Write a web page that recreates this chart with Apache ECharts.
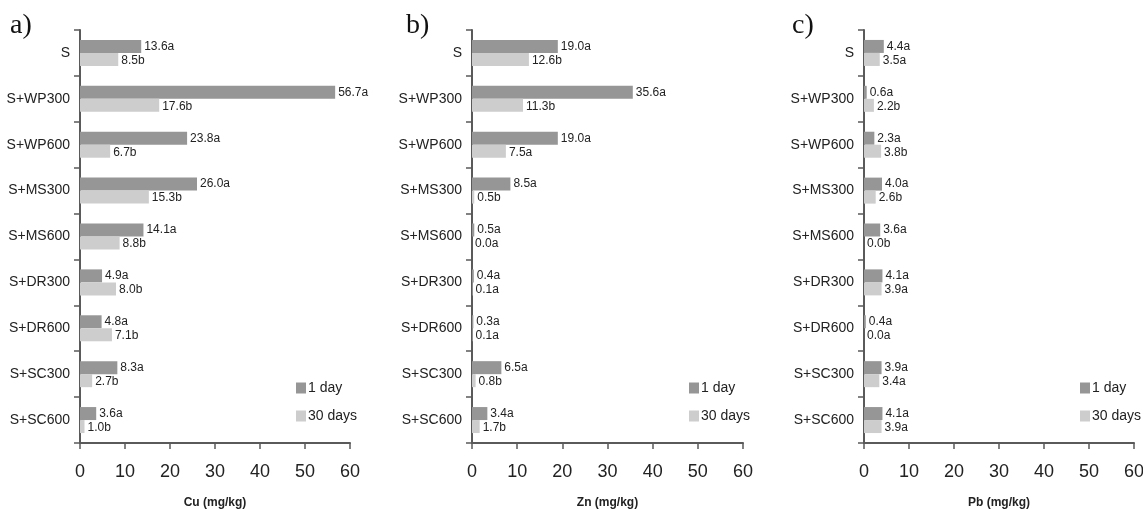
<!DOCTYPE html>
<html>
<head>
<meta charset="utf-8">
<script src="https://cdn.jsdelivr.net/npm/echarts@6/dist/echarts.min.js"></script>
<style>
html,body{margin:0;padding:0;background:#fff;}
#c{width:1143px;height:509px;}
</style>
</head>
<body>
<div id="c"></div>
<script>
var categories = ['S','S+WP300','S+WP600','S+MS300','S+MS600','S+DR300','S+DR600','S+SC300','S+SC600'];
var seriesNames = ['1 day','30 days'];
var xTicks = [0,10,20,30,40,50,60];
var panelLetters = ['a)','b)','c)'];
var axisTitles = ['Cu (mg/kg)','Zn (mg/kg)','Pb (mg/kg)'];

var cu1 = [13.6,56.7,23.8,26.0,14.1,4.9,4.8,8.3,3.6];
var cu30 = [8.5,17.6,6.7,15.3,8.8,8.0,7.1,2.7,1.0];
var cu1L = ['a','a','a','a','a','a','a','a','a'];
var cu30L = ['b','b','b','b','b','b','b','b','b'];

var zn1 = [19.0,35.6,19.0,8.5,0.5,0.4,0.3,6.5,3.4];
var zn30 = [12.6,11.3,7.5,0.5,0.0,0.1,0.1,0.8,1.7];
var zn1L = ['a','a','a','a','a','a','a','a','a'];
var zn30L = ['b','b','a','b','a','a','a','b','b'];

var pb1 = [4.4,0.6,2.3,4.0,3.6,4.1,0.4,3.9,4.1];
var pb30 = [3.5,2.2,3.8,2.6,0.0,3.9,0.0,3.4,3.9];
var pb1L = ['a','a','a','a','a','a','a','a','a'];
var pb30L = ['a','b','b','b','b','a','a','a','a'];

var panels = [
  {d1: cu1, d30: cu30, l1: cu1L, l30: cu30L},
  {d1: zn1, d30: zn30, l1: zn1L, l30: zn30L},
  {d1: pb1, d30: pb30, l1: pb1L, l30: pb30L}
];

var FONT = "'Liberation Sans', Arial, sans-serif";
var gridLeft = [80, 472, 864];
var gridWidth = [270, 271, 270];
var legendLeft = [296, 689, 1080];
var letterLeft = [10, 406, 792];
var DARK = '#969696', LIGHT = '#cdcdcd', AXIS = '#5a5a5a';

var grids = [], xAxes = [], yAxes = [], series = [], legends = [], titles = [];
panels.forEach(function(p, i){
  grids.push({left: gridLeft[i], width: gridWidth[i], top: 30, height: 413, containLabel: false, outerBoundsMode: 'none'});
  xAxes.push({
    type: 'value', gridIndex: i, min: xTicks[0], max: xTicks[xTicks.length-1], interval: 10,
    splitLine: {show: false},
    axisLine: {show: true, lineStyle: {color: AXIS, width: 2}},
    axisTick: {show: true, length: 6, lineStyle: {color: AXIS, width: 1.5}},
    axisLabel: {margin: 20, fontFamily: FONT, fontSize: 18, color: '#222'},
    name: axisTitles[i], nameLocation: 'middle', nameGap: 54,
    nameTextStyle: {fontFamily: FONT, fontSize: 12, fontWeight: 'bold', color: '#222'}
  });
  yAxes.push({
    type: 'category', gridIndex: i, data: categories, inverse: true,
    axisLine: {show: true, lineStyle: {color: AXIS, width: 2}},
    axisTick: {show: true, length: 6, lineStyle: {color: AXIS, width: 1.5}},
    axisLabel: {margin: 10, fontFamily: FONT, fontSize: 14, color: '#222'}
  });
  var lab = function(letters, dy){
    return {show: true, position: 'right', distance: 3, offset: [0, dy], fontFamily: FONT, fontSize: 12, color: '#222',
      formatter: function(pr){ return pr.value.toFixed(1) + letters[pr.dataIndex]; }};
  };
  series.push({
    name: seriesNames[0], type: 'bar', xAxisIndex: i, yAxisIndex: i, data: p.d1,
    barWidth: 13, barGap: '0%', itemStyle: {color: DARK}, label: lab(p.l1, 0), animation: false
  });
  series.push({
    name: seriesNames[1], type: 'bar', xAxisIndex: i, yAxisIndex: i, data: p.d30,
    barWidth: 13, barGap: '0%', itemStyle: {color: LIGHT}, label: lab(p.l30, 1), animation: false
  });
  legends.push({
    data: seriesNames, orient: 'vertical', left: legendLeft[i], top: 381, padding: 0,
    itemWidth: 10, itemHeight: 11, itemGap: 14, icon: 'rect', selectedMode: false,
    textStyle: {fontFamily: FONT, fontSize: 14, color: '#222', padding: [0,0,0,-3]}
  });
  titles.push({
    text: panelLetters[i], left: letterLeft[i], top: 12, padding: 0,
    textStyle: {fontFamily: "'Liberation Serif', 'Times New Roman', serif", fontSize: 28, fontWeight: 'normal', color: '#111'}
  });
});

var chart = echarts.init(document.getElementById('c'));
chart.setOption({
  animation: false,
  title: titles,
  legend: legends,
  grid: grids,
  xAxis: xAxes,
  yAxis: yAxes,
  series: series
});
</script>
</body>
</html>
